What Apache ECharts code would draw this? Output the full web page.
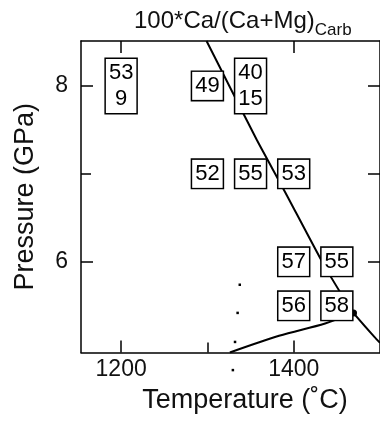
<!DOCTYPE html>
<html>
<head>
<meta charset="utf-8">
<script src="https://cdn.jsdelivr.net/npm/echarts@6/dist/echarts.min.js"></script>
<style>
html,body{margin:0;padding:0;background:#fff;}
#chart{width:380px;height:421px;}
</style>
</head>
<body>
<div id="chart"></div>
<script>
// ---- data ----
var xTickLabels = [1200, 1400];
var xMinorTicks = [1300];
var yTickLabels = [6, 8];
var yMinorTicks = [7];

// Ca# boxes: temperature, pressure, text
var boxT = [1200, 1300, 1350, 1300, 1350, 1400, 1400, 1450, 1400, 1450];
var boxP = [8, 8, 8, 7, 7, 7, 6, 6, 5.5, 5.5];
var boxText = ['53\n9', '49', '40\n15', '52', '55', '53', '57', '55', '56', '58'];

// upper boundary curve
var upperT = [1299, 1357, 1387.5, 1433, 1455.7, 1469.3, 1493.2, 1500];
var upperP = [8.51, 7.39, 6.84, 6.0, 5.625, 5.42, 5.15, 5.08];

// lower boundary curve
var lowerT = [1326, 1383, 1436.4, 1469.3];
var lowerP = [4.97, 5.16, 5.30, 5.42];

// junction point
var junctionT = [1469.3];
var junctionP = [5.42];

// small dots
var dotT = [1337.5, 1335, 1332, 1329.5];
var dotP = [5.74, 5.42, 5.09, 4.77];

function zip(a, b) { return a.map(function (v, i) { return [v, b[i]]; }); }

var FONT = "'Liberation Sans', Arial, Helvetica, sans-serif";
var xMin = 1153.5, xMax = 1500, yMin = 4.97, yMax = 8.51;
var plain = function (v) { return String(v); };

var chart = echarts.init(document.getElementById('chart'), null, {renderer: 'canvas'});
var lineBlack = {color: '#000', width: 1.5};

var option = {
  backgroundColor: '#fff',
  animation: false,
  title: {
    text: '{a|100*Ca/(Ca+Mg)}{b|Carb}',
    left: 129, top: 4,
    textStyle: {
      fontWeight: 'normal',
      rich: {
        a: {fontSize: 24, fontFamily: FONT, fontWeight: 'normal', color: '#111', verticalAlign: 'top', lineHeight: 30},
        b: {fontSize: 17, fontFamily: FONT, fontWeight: 'normal', color: '#111', verticalAlign: 'bottom', lineHeight: 30, padding: [12, 0, 0, 0]}
      }
    }
  },
  grid: [
    {left: 81, top: 41, width: 304.5, height: 311.5, containLabel: false},
    {left: 81, top: 41, width: 304.5, height: 311.5, containLabel: false}
  ],
  xAxis: [
    {
      type: 'value', gridIndex: 0, position: 'bottom', min: xMin, max: xMax,
      axisLine: {show: true, lineStyle: lineBlack},
      axisTick: {show: true, inside: true, length: 12, lineStyle: lineBlack, customValues: xTickLabels},
      axisLabel: {show: true, customValues: xTickLabels, formatter: plain, fontSize: 23, fontFamily: FONT, color: '#111', margin: 6},
      splitLine: {show: false},
      name: 'Temperature (˚C)', nameLocation: 'middle', nameGap: 35,
      nameTextStyle: {fontSize: 27, fontFamily: FONT, color: '#111', padding: [0, 0, 0, 29]}
    },
    {
      type: 'value', gridIndex: 0, position: 'top', min: xMin, max: xMax,
      axisLine: {show: true, lineStyle: lineBlack},
      axisTick: {show: true, inside: true, length: 12, lineStyle: lineBlack, customValues: xTickLabels},
      axisLabel: {show: false},
      splitLine: {show: false}
    },
    {
      type: 'value', gridIndex: 1, position: 'bottom', min: xMin, max: xMax,
      axisLine: {show: false},
      axisTick: {show: true, inside: true, length: 10, lineStyle: lineBlack, customValues: xMinorTicks},
      axisLabel: {show: false},
      splitLine: {show: false}
    }
  ],
  yAxis: [
    {
      type: 'value', gridIndex: 0, position: 'left', min: yMin, max: yMax,
      axisLine: {show: true, lineStyle: lineBlack},
      axisTick: {show: true, inside: true, length: 12, lineStyle: lineBlack, customValues: yTickLabels},
      axisLabel: {show: true, customValues: yTickLabels, formatter: plain, fontSize: 23, fontFamily: FONT, color: '#111', margin: 13},
      splitLine: {show: false},
      name: 'Pressure (GPa)', nameLocation: 'middle', nameGap: 42,
      nameTextStyle: {fontSize: 27, fontFamily: FONT, color: '#111'}
    },
    {
      type: 'value', gridIndex: 0, position: 'right', min: yMin, max: yMax,
      axisLine: {show: true, lineStyle: lineBlack},
      axisTick: {show: true, inside: true, length: 12, lineStyle: lineBlack, customValues: [6, 7, 8]},
      axisLabel: {show: false},
      splitLine: {show: false}
    },
    {
      type: 'value', gridIndex: 1, position: 'left', min: yMin, max: yMax,
      axisLine: {show: false},
      axisTick: {show: true, inside: true, length: 10, lineStyle: lineBlack, customValues: yMinorTicks},
      axisLabel: {show: false},
      splitLine: {show: false}
    }
  ],
  series: [
    {
      type: 'line', xAxisIndex: 0, yAxisIndex: 0, data: zip(upperT, upperP),
      showSymbol: false, smooth: 0.2, lineStyle: {color: '#000', width: 2}, z: 2, silent: true
    },
    {
      type: 'line', xAxisIndex: 0, yAxisIndex: 0, data: zip(lowerT, lowerP),
      showSymbol: false, smooth: 0.3, lineStyle: {color: '#000', width: 2}, z: 2, silent: true
    },
    {
      type: 'scatter', xAxisIndex: 0, yAxisIndex: 0, data: zip(junctionT, junctionP),
      symbol: 'circle', symbolSize: 7, itemStyle: {color: '#000', opacity: 1}, z: 3
    },
    {
      type: 'scatter', xAxisIndex: 0, yAxisIndex: 0, data: zip(dotT, dotP), clip: false,
      symbol: 'rect', symbolSize: 2.5, itemStyle: {color: '#000', opacity: 1}, z: 3
    },
    {
      type: 'scatter', xAxisIndex: 0, yAxisIndex: 0, z: 5,
      data: boxT.map(function (t, i) { return {value: [t, boxP[i]], name: boxText[i]}; }),
      symbolSize: 0,
      itemStyle: {color: '#000', opacity: 1},
      label: {
        show: true, position: 'inside', formatter: '{b}',
        color: '#000', fontSize: 22, fontFamily: FONT, lineHeight: 26, align: 'center',
        backgroundColor: '#fff', borderColor: '#000', borderWidth: 1.5, padding: [1, 3]
      },
      labelLayout: {hideOverlap: false}
    }
  ]
};
chart.setOption(option);
</script>
</body>
</html>
